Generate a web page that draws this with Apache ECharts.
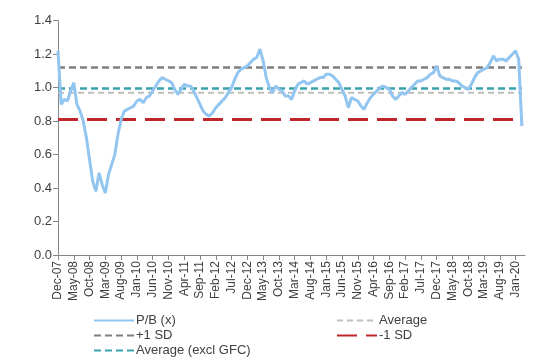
<!DOCTYPE html>
<html>
<head>
<meta charset="utf-8">
<script src="https://cdn.jsdelivr.net/npm/echarts@6/dist/echarts.min.js"></script>
<style>html,body{margin:0;padding:0;background:#fff;}#c{width:548px;height:360px;}</style>
</head>
<body>
<div id="c"></div>
<script>
// Monthly categories Dec-07 .. Apr-20
const monthNames = ['Jan','Feb','Mar','Apr','May','Jun','Jul','Aug','Sep','Oct','Nov','Dec'];
const categories = [];
for (let i = 0; i < 149; i++) {
  const m = (11 + i) % 12;
  const y = 7 + Math.floor((11 + i) / 12);
  categories.push(monthNames[m] + '-' + String(y).padStart(2, '0'));
}
// P/B (x), Dec-07 .. Mar-20
const pbValues = [
  1.22,0.90,0.93,0.92,0.98,1.03,0.90,0.86,0.80,0.70,0.57,0.44,
  0.38,0.49,0.42,0.37,0.48,0.54,0.60,0.72,0.81,0.86,0.87,0.88,
  0.89,0.92,0.93,0.91,0.94,0.95,0.98,1.01,1.04,1.06,1.05,1.04,
  1.03,0.99,0.96,0.99,1.02,1.01,1.01,0.98,0.94,0.90,0.86,0.84,
  0.83,0.85,0.88,0.90,0.92,0.94,0.97,1.00,1.05,1.09,1.11,1.12,
  1.13,1.15,1.17,1.18,1.23,1.16,1.06,1.00,0.97,1.01,0.99,0.98,
  0.95,0.95,0.93,0.98,1.02,1.03,1.04,1.02,1.03,1.04,1.05,1.06,
  1.06,1.08,1.08,1.07,1.05,1.03,0.99,0.95,0.88,0.94,0.93,0.92,
  0.89,0.87,0.91,0.94,0.96,0.98,1.00,1.01,1.00,0.99,0.95,0.93,
  0.95,0.97,0.96,0.98,1.00,1.02,1.04,1.04,1.05,1.06,1.08,1.09,
  1.13,1.07,1.06,1.05,1.05,1.04,1.04,1.03,1.01,1.00,0.99,1.02,
  1.06,1.09,1.10,1.11,1.12,1.15,1.19,1.16,1.17,1.17,1.16,1.18,
  1.20,1.22,1.17,0.77
];
const averageLevel = 0.97;
const plusOneSD = 1.12;
const minusOneSD = 0.81;
const averageExclGFC = 0.995;
const yTicks = [0, 0.2, 0.4, 0.6, 0.8, 1.0, 1.2, 1.4];

const flat = v => pbValues.map(() => v);
const font = 'Liberation Sans, Arial, sans-serif';
const legendBase = {
  orient: 'vertical', top: 309, height: 52, itemWidth: 40, itemHeight: 12, itemGap: 2,
  itemStyle: { opacity: 0 },
  textStyle: { fontFamily: font, fontSize: 13, color: '#404040', padding: [0, 0, 0, -3] }
};
const chart = echarts.init(document.getElementById('c'));
chart.setOption({
  animation: false,
  backgroundColor: '#fff',
  grid: { left: 58, right: 23, top: 20.7, bottom: 105, containLabel: false },
  xAxis: {
    type: 'category', data: categories, boundaryGap: false,
    axisLine: { lineStyle: { color: '#868686', width: 1 } },
    axisTick: { show: true, interval: 4, length: 5, lineStyle: { color: '#868686' } },
    axisLabel: { interval: 4, rotate: 90, color: '#404040', fontFamily: font, fontSize: 12, margin: 6 },
    splitLine: { show: false }
  },
  yAxis: {
    type: 'value', min: yTicks[0], max: yTicks[yTicks.length - 1], interval: 0.2,
    axisLine: { show: true, lineStyle: { color: '#868686', width: 1 } },
    axisTick: { show: true, length: 5, lineStyle: { color: '#868686' } },
    axisLabel: { color: '#404040', fontFamily: font, fontSize: 13, margin: 6, formatter: v => v.toFixed(1) },
    splitLine: { show: false }
  },
  legend: [
    Object.assign({}, legendBase, { left: 88, data: ['P/B (x)', '+1 SD', 'Average (excl GFC)'] }),
    Object.assign({}, legendBase, { left: 331, data: ['Average', '-1 SD'] })
  ],
  series: [
    { name: 'P/B (x)', type: 'line', data: pbValues, showSymbol: false, symbol: 'none', z: 5,
      lineStyle: { color: '#92C5F0', width: 3 }, itemStyle: { color: '#92C5F0' } },
    { name: 'Average', type: 'line', data: flat(averageLevel), showSymbol: false, symbol: 'none', z: 3,
      lineStyle: { color: '#BFBFBF', width: 2, type: [6, 4] }, itemStyle: { color: '#BFBFBF' } },
    { name: '+1 SD', type: 'line', data: flat(plusOneSD), showSymbol: false, symbol: 'none', z: 3,
      lineStyle: { color: '#7F7F7F', width: 2.5, type: [7, 4] }, itemStyle: { color: '#7F7F7F' } },
    { name: '-1 SD', type: 'line', data: flat(minusOneSD), showSymbol: false, symbol: 'none', z: 3,
      lineStyle: { color: '#C0272D', width: 3, type: [20, 9] }, itemStyle: { color: '#C0272D' } },
    { name: 'Average (excl GFC)', type: 'line', data: flat(averageExclGFC), showSymbol: false, symbol: 'none', z: 3,
      lineStyle: { color: '#3AA3AD', width: 2.5, type: [7, 4] }, itemStyle: { color: '#3AA3AD' } }
  ]
});
</script>
</body>
</html>
